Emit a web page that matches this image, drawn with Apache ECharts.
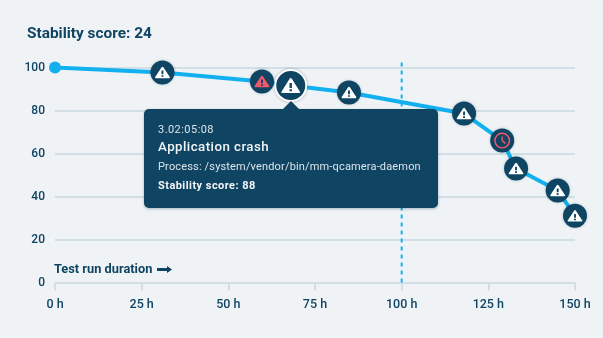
<!DOCTYPE html>
<html><head><meta charset="utf-8">
<style>html,body{margin:0;padding:0;background:#f0f3f5}#c{width:603px;height:338px}</style>
<script src="https://cdn.jsdelivr.net/npm/echarts@6/dist/echarts.min.js"></script>
</head><body><div id="c"></div>
<script>
const titleText = 'Stability score: 24';
const xTickStep = 25, xMax = 150, yTickStep = 20, yMax = 100;
const xLabelSuffix = ' h';
const durationLabel = 'Test run duration';
const hours  = [0, 31, 59.7, 68, 84.8, 118, 129, 133, 145, 150];
const scores = [100, 97.7, 93.5, 91.6, 88.4, 78.6, 66, 53, 42.8, 31];
const kinds  = ['start','warn','alert','active','warn','warn','clock','warn','warn','warn'];
const refLineHour = 100, refLineTop = 103.7;
const tipTime = '3.02:05:08', tipTitle = 'Application crash',
      tipProcess = 'Process: /system/vendor/bin/mm-qcamera-daemon', tipScore = 'Stability score: 88';

const NAVY = '#0f4463', BLUE = '#13b0ef', GRID = '#d3dfe7', RED = '#f2586d', WHITE = '#ffffff';
const FONT = 'Roboto, sans-serif';
const TRI = 'path://M10.6 1 Q12 -1 13.4 1 L23.6 19 Q24.6 21 22.4 21 L1.6 21 Q-0.6 21 0.4 19 Z M10.5 7 L10.5 13.8 L13.5 13.8 L13.5 7 Z M10.5 15.6 L10.5 18.6 L13.5 18.6 L13.5 15.6 Z';
const CLOCK = 'path://M12 0 A12 12 0 0 1 12 24 A12 12 0 0 1 12 0 Z M12 2.2 A9.8 9.8 0 0 0 12 21.8 A9.8 9.8 0 0 0 12 2.2 Z M11 6 L13 6 L13 11.6 L17.4 15.4 L16 17 L11 12.6 Z';

const pts = k => hours.map((h,i)=>kinds[i]===k?[h,scores[i]]:null).filter(Boolean);
const disc = (k,size,extra) => ({type:'scatter',data:pts(k),symbol:'circle',symbolSize:size,z:3,silent:true,
  itemStyle:Object.assign({color:NAVY,opacity:1,shadowBlur:3,shadowColor:'rgba(15,68,99,.3)'},extra||{})});
const icon = (k,sym,w,h,col) => ({type:'scatter',data:pts(k),symbol:sym,symbolSize:[w,h],symbolKeepAspect:true,z:4,
  silent:true,itemStyle:{color:col,opacity:1}});

const chart = echarts.init(document.getElementById('c'));
chart.setOption({
  animation:false,
  backgroundColor:'#f0f3f5',
  textStyle:{fontFamily:FONT},
  title:{text:titleText,left:22,top:22,textStyle:{fontFamily:FONT,fontSize:15.4,fontWeight:700,color:NAVY}},
  grid:{left:55,right:28,top:67.5,bottom:55.5},
  tooltip:{trigger:'item',triggerOn:'none',alwaysShowContent:true,transitionDuration:0,
    backgroundColor:NAVY,borderWidth:0,padding:0,
    extraCssText:'border-radius:5px;box-shadow:0 1px 3px rgba(15,68,99,.35);overflow:visible;',
    position:(p)=>[p[0]-147,Math.floor(p[1])+24],
    formatter:()=>`<div style="position:relative;box-sizing:border-box;width:294px;height:99px;padding:14px 14px;color:#f2f5f7;font-family:${FONT};letter-spacing:.45px;white-space:nowrap">
      <div style="position:absolute;left:139px;top:-8px;width:0;height:0;border-left:8px solid transparent;border-right:8px solid transparent;border-bottom:8px solid ${NAVY}"></div>
      <div style="font-size:11px;line-height:14px;color:#dde5ea">${tipTime}</div>
      <div style="font-size:13.3px;line-height:18px;margin-top:1px;font-weight:500">${tipTitle}</div>
      <div style="font-size:11px;line-height:14px;margin-top:4px;color:#dde5ea;letter-spacing:.16px">${tipProcess}</div>
      <div style="font-size:11px;line-height:14px;margin-top:5px;font-weight:700">${tipScore}</div></div>`},
  xAxis:{type:'value',min:0,max:xMax,interval:xTickStep,splitLine:{show:false},
    axisLine:{show:true,lineStyle:{color:GRID,width:2}},
    axisTick:{show:true,length:8,lineStyle:{color:GRID,width:2}},
    axisLabel:{margin:16,color:NAVY,fontSize:12.5,fontWeight:500,fontFamily:FONT,formatter:v=>v+xLabelSuffix,hideOverlap:false}},
  yAxis:{type:'value',min:0,max:yMax,interval:yTickStep,
    axisLine:{show:false},axisTick:{show:false},
    splitLine:{lineStyle:{color:GRID,width:2}},
    axisLabel:{margin:10,color:NAVY,fontSize:12,fontWeight:500,fontFamily:FONT}},
  graphic:[
    {type:'text',left:54,top:263,style:{text:durationLabel,fill:NAVY,font:`700 12.8px ${FONT}`}},
    {type:'polygon',left:157,top:266,style:{fill:NAVY},shape:{points:[[0,2],[10,2],[10,0],[15,3.5],[10,7],[10,5],[0,5]]}}
  ],
  series:[
    {type:'line',data:[[refLineHour,0],[refLineHour,refLineTop]],clip:false,symbol:'none',silent:true,z:1,
      lineStyle:{color:BLUE,width:2,type:[4,4]}},
    {type:'line',data:hours.map((h,i)=>[h,scores[i]]),symbol:'none',silent:true,z:2,
      lineStyle:{color:BLUE,width:4}},
    {type:'scatter',data:pts('start'),symbol:'circle',symbolSize:12,z:3,silent:true,itemStyle:{color:BLUE,opacity:1}},
    disc('warn',24), icon('warn',TRI,15,13,WHITE),
    disc('alert',24), icon('alert',TRI,15,13,RED),
    disc('clock',24), icon('clock',CLOCK,16,16,RED),
    Object.assign(disc('active',31,{borderColor:WHITE,borderWidth:2}),{z:5,silent:false}),
    Object.assign(icon('active',TRI,19,17,WHITE),{z:6})
  ]
});
const activeSeries = chart.getOption().series.length-2;
chart.dispatchAction({type:'showTip',seriesIndex:activeSeries,dataIndex:0});
</script></body></html>
